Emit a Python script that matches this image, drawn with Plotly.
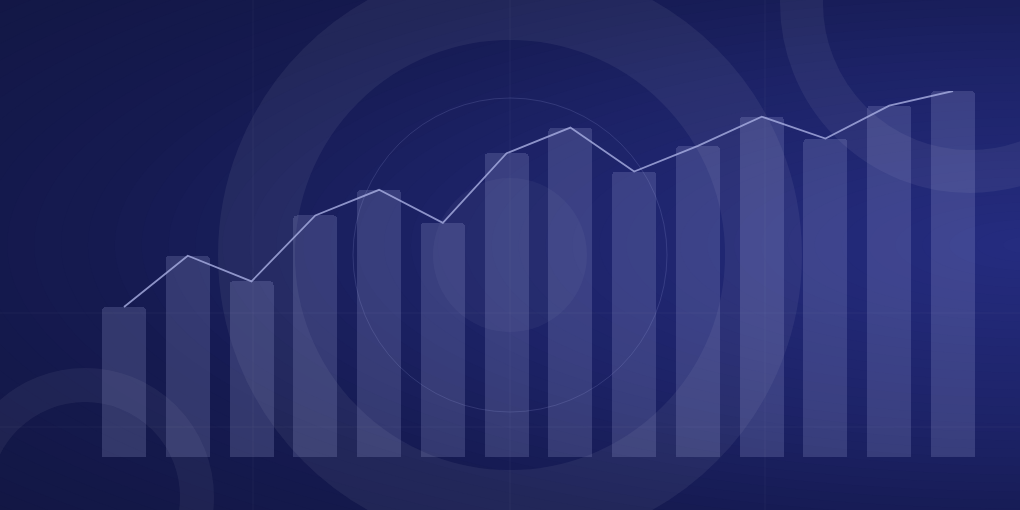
import plotly.graph_objects as go

# ---- data ----
periods = ["P1", "P2", "P3", "P4", "P5", "P6", "P7", "P8", "P9", "P10", "P11", "P12", "P13", "P14"]
bar_values = [41, 55, 48, 66, 73, 64, 83, 90, 78, 85, 93, 87, 96, 100]
line_values = [41, 55, 48, 66, 73, 64, 83, 90, 78, 85, 93, 87, 96, 100]

# background glow colour stops (elliptical distance -> rgb)
glow_stops = [(0.0, (37, 44, 128)), (0.6, (29, 35, 104)), (1.0, (21, 26, 80)), (1.7, (17, 21, 60))]

W, H = 1020, 510


def px(x):
    return x / W


def py(y):
    return 1 - y / H


def circle(cx, cy, r, fill=None, line_color=None, line_width=0, ry=None):
    ry = r if ry is None else ry
    return dict(
        type="circle", xref="paper", yref="paper", layer="below",
        x0=px(cx - r), x1=px(cx + r), y0=py(cy + ry), y1=py(cy - ry),
        fillcolor=fill if fill else "rgba(0,0,0,0)",
        line=dict(color=line_color if line_color else "rgba(0,0,0,0)", width=line_width),
    )


def vline(x, y0, y1, color):
    return dict(type="line", xref="paper", yref="paper", layer="below",
                x0=px(x), x1=px(x), y0=py(y1), y1=py(y0), line=dict(color=color, width=1))


def hline(y, x0, x1, color):
    return dict(type="line", xref="paper", yref="paper", layer="below",
                x0=px(x0), x1=px(x1), y0=py(y), y1=py(y), line=dict(color=color, width=1))


def stop_color(d):
    for (d0, c0), (d1, c1) in zip(glow_stops[:-1], glow_stops[1:]):
        if d0 <= d <= d1:
            t = (d - d0) / (d1 - d0)
            return tuple(round(a + (b - a) * t) for a, b in zip(c0, c1))
    return glow_stops[-1][1]


shapes = []
# smooth elliptical glow toward right-middle, drawn as opaque nested ellipses
GA, GB, GCX, GCY = 950.0, 300.0, 1030.0, 245.0
steps = 60
for i in range(steps, 0, -1):
    d = 1.7 * i / steps
    c = stop_color(d)
    shapes.append(circle(GCX, GCY, GA * d, fill="rgb(%d,%d,%d)" % c, ry=GB * d))

# faint grid lines
gc = "rgba(255,255,255,0.04)"
shapes += [vline(253, 0, H, gc), vline(510, 0, H, gc), vline(765, 0, H, gc),
           hline(313, 0, W, gc), hline(427, 0, W, gc)]

# big central ring
shapes.append(circle(510, 255, 253.5, line_color="rgba(255,255,255,0.06)", line_width=77))
# small inner disc
shapes.append(circle(510, 255, 77, fill="rgba(255,255,255,0.04)"))
# thin circle
shapes.append(circle(510, 255, 157, line_color="rgba(190,195,255,0.15)", line_width=1))
# top-right ring
shapes.append(circle(970, 3, 168.5, line_color="rgba(255,255,255,0.06)", line_width=43))
# bottom-left ring
shapes.append(circle(85, 497, 112, line_color="rgba(255,255,255,0.05)", line_width=34))

fig = go.Figure()
fig.add_trace(go.Bar(
    x=periods, y=bar_values, width=0.69,
    marker=dict(color="rgba(175,180,230,0.2)", line=dict(width=0), cornerradius=4),
    hoverinfo="skip", showlegend=False,
))
fig.add_trace(go.Scatter(
    x=periods, y=line_values, mode="lines",
    line=dict(color="rgba(170,176,228,0.8)", width=1.8),
    hoverinfo="skip", showlegend=False,
))

x_left, x_right = 92.1, 984.9
fig.update_layout(
    width=W, height=H,
    margin=dict(l=0, r=0, t=0, b=0),
    paper_bgcolor="rgb(%d,%d,%d)" % glow_stops[-1][1],
    plot_bgcolor="rgba(0,0,0,0)",
    shapes=shapes,
    bargap=0,
    xaxis=dict(domain=[px(x_left), px(x_right)], range=[-0.5, 13.5], type="category",
               visible=False, showgrid=False, zeroline=False, fixedrange=True),
    yaxis=dict(domain=[py(457), py(91)], range=[0, 100], visible=False,
               showgrid=False, zeroline=False, fixedrange=True),
)

fig.write_html(
    "out.html",
    config={"displayModeBar": False, "staticPlot": True},
    post_script="document.body.style.margin='0';document.body.style.overflow='hidden';",
)
